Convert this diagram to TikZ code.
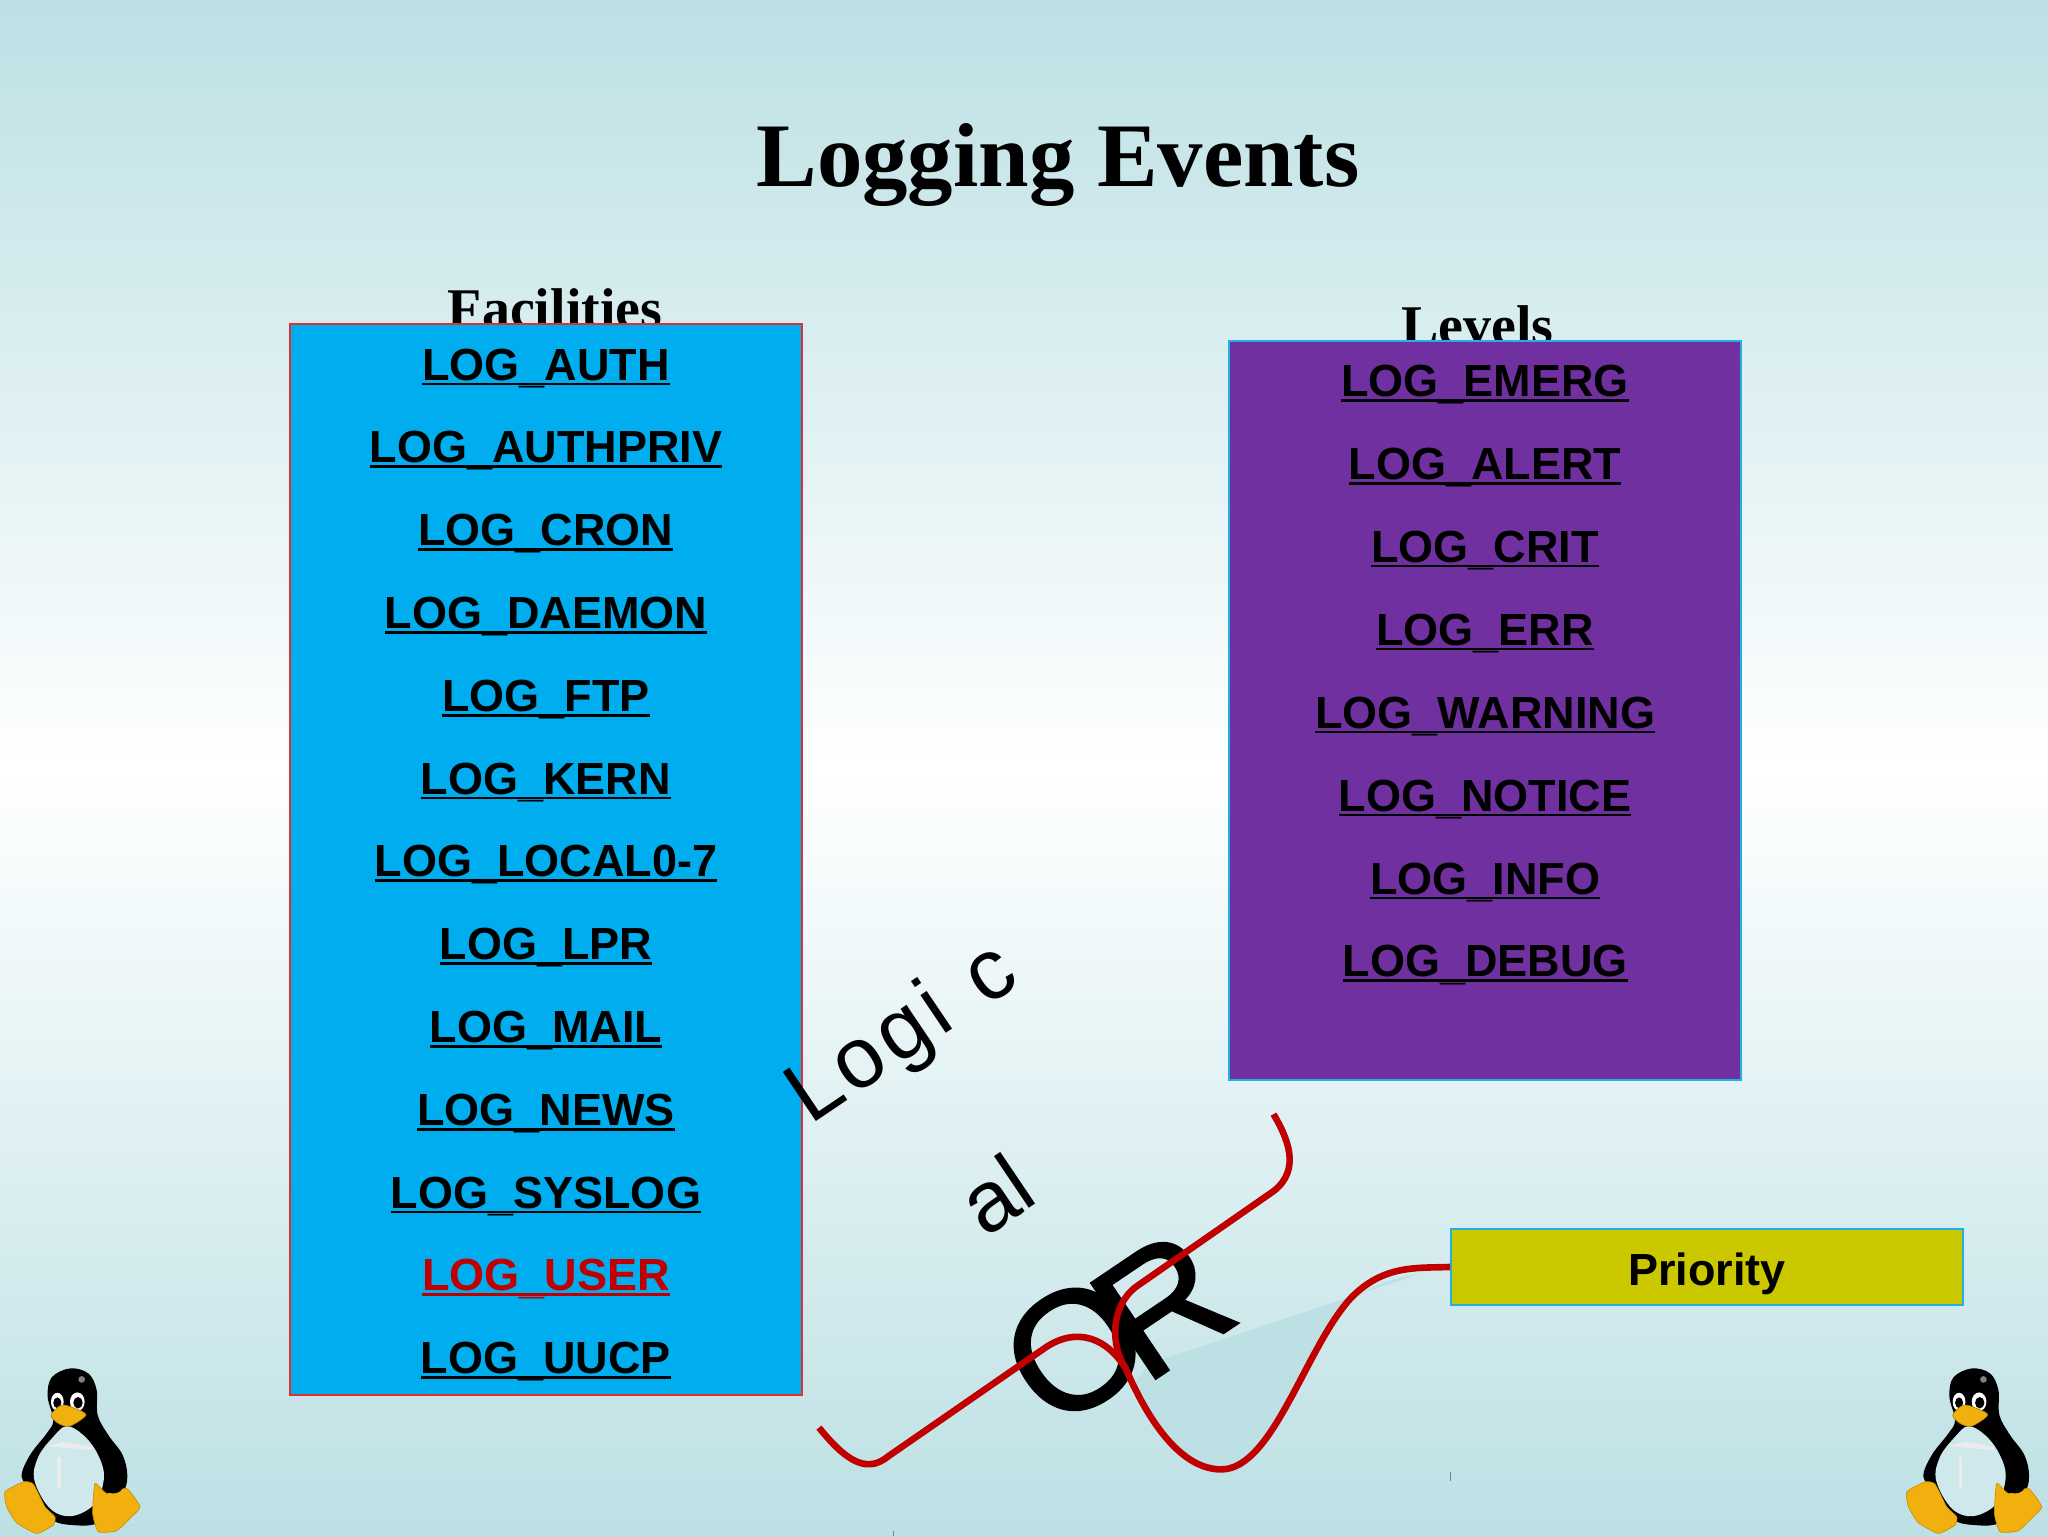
\documentclass[tikz,border=0pt]{standalone}
\usepackage{fontspec}
\setmainfont{Liberation Sans}
\newfontfamily\serifbold[BoldFont=Liberation Serif Bold]{Liberation Serif}
\newfontfamily\heavysans[FakeBold=1.2]{Liberation Sans}
\definecolor{tealbg}{HTML}{BCE0E4}
\definecolor{bluebox}{HTML}{00AEEF}
\definecolor{purplebox}{HTML}{7030A0}
\definecolor{yellowbox}{HTML}{CCC800}
\definecolor{redline}{HTML}{C00000}
\definecolor{boxred}{HTML}{E03030}
\definecolor{boxcyan}{HTML}{20B0E8}
\definecolor{tuxyellow}{HTML}{F2B00F}
\definecolor{tuxbelly}{HTML}{CFE8EC}
\newcommand{\ulbl}[1]{\setbox0=\hbox{#1}\rlap{\rule[-0.115em]{\wd0}{0.06em}}\box0}
\newcommand{\usc}{\raisebox{-0.045em}{\_}}
\newcommand{\tuxat}[1]{%
\begin{scope}[shift={(#1,1026)},x=0.16667pt,y=-0.16667pt]
 \fill[black] plot[smooth cycle,tension=0.6] coordinates {(210,85)(265,100)(290,150)(293,225)(325,285)(368,345)(382,410)(365,465)(300,545)(220,555)(150,535)(100,455)(65,410)(90,345)(140,280)(160,240)(143,170)(155,112)};
 \fill[tuxbelly] plot[smooth cycle,tension=0.6] coordinates {(160,290)(200,258)(250,285)(292,340)(312,410)(285,490)(215,528)(150,505)(103,420)(115,350)};
 \fill[white!85!gray] (138,318) -- (190,305) -- (225,310) -- (280,322) -- (275,330) -- (190,322) -- cycle;
 \fill[white!85!gray] (172,350) rectangle (182,445);
 \fill[white] (172,185) ellipse [x radius=19,y radius=27];
 \fill[white] (232,185) ellipse [x radius=22,y radius=28];
 \fill[black] (172,188) ellipse [x radius=12,y radius=16];
 \fill[black] (234,188) ellipse [x radius=14,y radius=17];
 \fill[gray] (245,118) circle (10);
 \fill[tuxyellow,draw=black!30!tuxyellow,line width=0.3pt] plot[smooth cycle,tension=0.5] coordinates {(153,225)(185,195)(225,205)(258,225)(210,258)(175,250)};
 \fill[tuxyellow,draw=black!20!tuxyellow,line width=0.3pt] plot[smooth cycle,tension=0.3] coordinates {(15,455)(70,425)(100,432)(135,500)(165,530)(160,555)(110,580)(50,548)(20,500)};
 \fill[tuxyellow,draw=black!20!tuxyellow,line width=0.3pt] plot[smooth cycle,tension=0.3] coordinates {(285,430)(320,460)(380,445)(420,500)(395,530)(350,572)(295,575)(278,520)};
 \fill[black] (340,435) ellipse [x radius=30,y radius=25];
\end{scope}}
\tikzset{
 x=0.65306pt,y=-0.65306pt,
 itemlabel/.style={font=\fontsize{22.5}{24}\selectfont\bfseries,text=black,anchor=base,inner sep=0pt},
 headlabel/.style={font=\serifbold\fontsize{28}{30}\selectfont\bfseries,text=black,anchor=base,inner sep=0pt},
 faclist/.style={draw=boxred,fill=bluebox,line width=1pt,inner sep=0pt},
 levlist/.style={draw=boxcyan,fill=purplebox,line width=1pt,inner sep=0pt},
 priobox/.style={draw=boxcyan,fill=yellowbox,line width=1pt,inner sep=0pt},
 redconn/.style={draw=redline,line width=3.3pt},
 slanted/.style={font=\fontsize{43}{44}\selectfont,text=black,rotate=34,anchor=base west,inner sep=0pt},
}
\begin{document}
\begin{tikzpicture}
\useasboundingbox (0,0) rectangle (1568,1176);
\shade[top color=tealbg,bottom color=white] (0,0) rectangle (1568,590);
\shade[top color=white,bottom color=tealbg] (0,590) rectangle (1568,1176);

\node[font=\serifbold\fontsize{45.4}{48}\selectfont\bfseries,anchor=base,inner sep=0pt] (title) at (810,143) {Logging Events};
\node[headlabel] (fachead) at (425,251) {Facilities};
\node[headlabel] (levhead) at (1131,264) {Levels};

\path[faclist] (222,248) rectangle (614,1068);
\path[levlist] (941,261) rectangle (1333,827);

\node[itemlabel] (f1) at (418,291) {\ulbl{LOG\usc AUTH}};
\node[itemlabel] (f2) at (418,354.4) {\ulbl{LOG\usc AUTHPRIV}};
\node[itemlabel] (f3) at (418,417.8) {\ulbl{LOG\usc CRON}};
\node[itemlabel] (f4) at (418,481.2) {\ulbl{LOG\usc DAEMON}};
\node[itemlabel] (f5) at (418,544.6) {\ulbl{LOG\usc FTP}};
\node[itemlabel] (f6) at (418,608) {\ulbl{LOG\usc KERN}};
\node[itemlabel] (f7) at (418,671.4) {\ulbl{LOG\usc LOCAL0-7}};
\node[itemlabel] (f8) at (418,734.8) {\ulbl{LOG\usc LPR}};
\node[itemlabel] (f9) at (418,798.2) {\ulbl{LOG\usc MAIL}};
\node[itemlabel] (f10) at (418,861.6) {\ulbl{LOG\usc NEWS}};
\node[itemlabel] (f11) at (418,925) {\ulbl{LOG\usc SYSLOG}};
\node[itemlabel,text=redline] (f12) at (418,988.4) {\ulbl{LOG\usc USER}};
\node[itemlabel] (f13) at (418,1051.8) {\ulbl{LOG\usc UUCP}};

\node[itemlabel] (l1) at (1137,303.5) {\ulbl{LOG\usc EMERG}};
\node[itemlabel] (l2) at (1137,367) {\ulbl{LOG\usc ALERT}};
\node[itemlabel] (l3) at (1137,430.5) {\ulbl{LOG\usc CRIT}};
\node[itemlabel] (l4) at (1137,494) {\ulbl{LOG\usc ERR}};
\node[itemlabel] (l5) at (1137,557.5) {\ulbl{LOG\usc WARNING}};
\node[itemlabel] (l6) at (1137,621) {\ulbl{LOG\usc NOTICE}};
\node[itemlabel] (l7) at (1137,684.5) {\ulbl{LOG\usc INFO}};
\node[itemlabel] (l8) at (1137,748) {\ulbl{LOG\usc DEBUG}};

\node[priobox,minimum width=256pt,minimum height=37.9pt] (prio) at (1307,970) {};
\node[itemlabel] (priotext) at (1307,984) {Priority};

\fill[tealbg] (880,1044) -- (1088,975) .. controls (1060,980) and (1045,985) .. (1026,1005)
  .. controls (1000,1035) and (975,1125) .. (935,1125)
  .. controls (905,1125) and (880,1090) .. (868,1060) -- cycle;

\node[slanted] (logic) at (620,862) {L\kern0.06em o\kern0.06em g\kern0.06em i\kern0.12em\ c};
\node[slanted] (al) at (754,948) {al};
\node[slanted,font=\heavysans\fontsize{84}{86}\selectfont] (ortext) at (806,1098) {O\kern-0.17em\raisebox{-0.07em}{R}};

\coordinate (startA) at (627,1093);
\coordinate (startB) at (975,853);
\coordinate (join) at (862,1048);
\draw[redconn] (startA) .. controls (645,1115) and (662,1130) .. (680,1115) -- (800,1032)
  .. controls (825,1015) and (848,1025) .. (join)
  .. controls (880,1090) and (905,1125) .. (935,1125)
  .. controls (975,1125) and (1000,1030) .. (1035,993)
  .. controls (1060,968) and (1085,971) .. (prio.west);
\draw[redconn] (startB) .. controls (985,870) and (997,895) .. (975,912) -- (870,985)
  .. controls (850,1000) and (850,1030) .. (join);

\draw[line width=0.3pt,gray] (1110,1127) -- (1110,1134);
\draw[line width=0.3pt,gray] (684,1172) -- (684,1176);

\tuxat{0}
\tuxat{1456}
\end{tikzpicture}
\end{document}
